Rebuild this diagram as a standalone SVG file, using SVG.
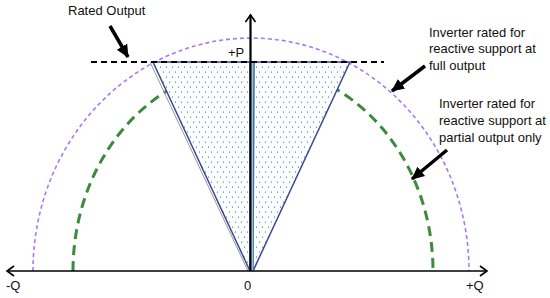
<svg xmlns="http://www.w3.org/2000/svg" width="550" height="298" viewBox="0 0 550 298">
<defs>
<style>
.lbl{font-family:"Liberation Sans",Arial,sans-serif;font-size:13px;fill:#111}
.axis{stroke:#000;stroke-width:1.6;fill:none}
.call{stroke:#000;stroke-width:3.5;fill:none}
</style>
<pattern id="dots" width="6" height="10" patternUnits="userSpaceOnUse">
<rect width="6" height="10" fill="#fbffff"/>
<circle cx="1.5" cy="2" r="0.6" fill="#444"/>
<circle cx="4.5" cy="7" r="0.6" fill="#444"/>
</pattern>
<marker id="open" markerWidth="12" markerHeight="12" refX="9" refY="6" orient="auto" markerUnits="userSpaceOnUse">
<path d="M2,1 L9,6 L2,11" fill="none" stroke="#000" stroke-width="1.6"/>
</marker>
<marker id="solid" markerWidth="14" markerHeight="14" refX="12" refY="7" orient="auto" markerUnits="userSpaceOnUse">
<path d="M0,1 L13,7 L0,13 Z" fill="#000"/>
</marker>
</defs>
<rect width="550" height="298" fill="#fff"/>
<g id="full-circle">
<path d="M33,271 A218,233 0 0 1 469,271" fill="none" stroke="#a878f0" stroke-width="1.6" stroke-dasharray="4,3"/>
</g>
<g id="partial-circle">
<path d="M73,271 A180,205 0 0 1 433,271" fill="none" stroke="#3b8a3e" stroke-width="3" stroke-dasharray="10,6"/>
</g>
<g id="triangle">
<line x1="150" y1="62" x2="248" y2="271" stroke="#999" stroke-width="1"/>
<polygon points="153,62 250,62 250,271" fill="url(#dots)" stroke="#3a4a95" stroke-width="1.5"/>
<polygon points="254,62 350,62 253,271" fill="url(#dots)" stroke="#3a4a95" stroke-width="1.5"/>
<line x1="252.5" y1="62" x2="252.5" y2="271" stroke="#80cce8" stroke-width="1.5"/>
</g>
<g id="rated-line">
<line x1="91" y1="62" x2="384" y2="62" stroke="#000" stroke-width="2" stroke-dasharray="6,4"/>
</g>
<g id="connectors">
<line class="axis" x1="251" y1="271" x2="487" y2="271" marker-end="url(#open)"/>
<line class="axis" x1="251" y1="271" x2="7" y2="271" marker-end="url(#open)"/>
<line x1="250.5" y1="271" x2="250.5" y2="15" stroke="#000" stroke-width="2.2" marker-end="url(#open)"/>
<line class="call" x1="110" y1="26" x2="128" y2="57" marker-end="url(#solid)"/>
<line class="call" x1="425" y1="66" x2="392" y2="91" marker-end="url(#solid)"/>
<line class="call" x1="447" y1="150" x2="412" y2="179" marker-end="url(#solid)"/>
</g>
<g id="labels">
<text class="lbl" x="68" y="15">Rated Output</text>
<text class="lbl" x="228" y="57">+P</text>
<text class="lbl" x="429" y="37">Inverter rated for</text>
<text class="lbl" x="429" y="53">reactive support at</text>
<text class="lbl" x="429" y="70">full output</text>
<text class="lbl" x="439" y="108">Inverter rated for</text>
<text class="lbl" x="439" y="125">reactive support at</text>
<text class="lbl" x="439" y="142">partial output only</text>
<text class="lbl" x="6" y="290">-Q</text>
<text class="lbl" x="244" y="290">0</text>
<text class="lbl" x="466" y="290">+Q</text>
</g>
</svg>
